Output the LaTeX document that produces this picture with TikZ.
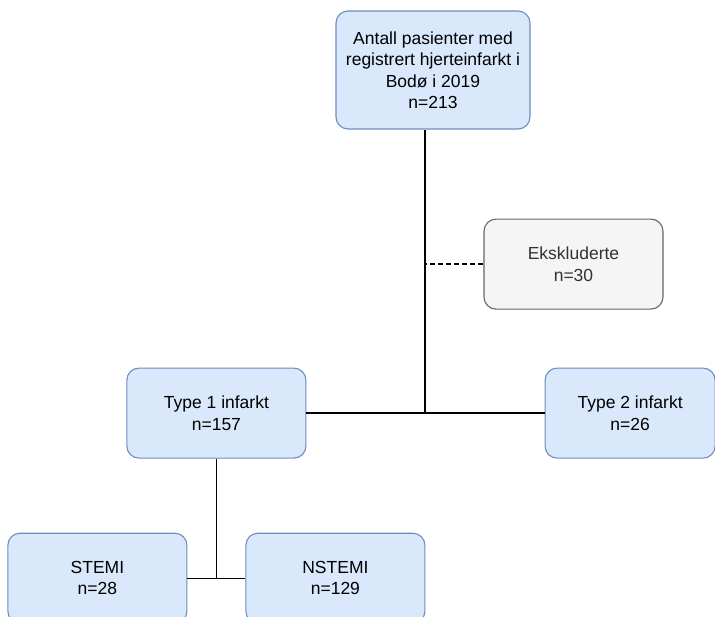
\documentclass[tikz,border=0pt]{standalone}
\usepackage{fontspec}
\setmainfont{Liberation Sans}
\usetikzlibrary{positioning}

\definecolor{boxblue}{HTML}{DAE8FC}
\definecolor{lineblue}{HTML}{6C8EBF}
\definecolor{boxgray}{HTML}{F5F5F5}
\definecolor{linegray}{HTML}{666666}
\definecolor{textgray}{HTML}{333333}

\begin{document}
\begin{tikzpicture}[
        x=1pt, y=1pt,
        box/.style={rectangle, draw=lineblue, line width=1.1pt, fill=boxblue, align=center, minimum width=179pt, minimum height=90pt, rounded corners=12pt, font=\fontsize{17.5}{21.5}\selectfont},
        gbox/.style={box, draw=linegray, fill=boxgray, text=textgray},
        link/.style={line width=1.3pt}
    ]
    \useasboundingbox (0,0) rectangle (715,-616);
    \clip (0,0) rectangle (715,-616);

    % Nodes
    \node (total) [box, minimum width=194pt, minimum height=118pt] at (433,-70) {Antall pasienter med\\registrert hjerteinfarkt i\\Bodø i 2019\\n=213};
    \node (excl) [gbox, below=89pt of total, xshift=140.5pt] {Ekskluderte\\n=30};

    \node (type1) [box, below left=238pt and 29pt of total] {Type 1 infarkt\\n=157};
    \node (type2) [box, minimum width=170pt, below right=238pt and 14pt of total] {Type 2 infarkt\\n=26};

    \node (stemi) [box, below=74pt of type1, xshift=-119pt] {STEMI\\n=28};
    \node (nstemi) [box, below=74pt of type1, xshift=119pt] {NSTEMI\\n=129};

    % Lines
    \coordinate (split) at ([xshift=-8pt]total.south |- type1.east);
    \draw [link] ([xshift=-8pt]total.south) -- (split);
    \draw [link] (type1.east) -- (type2.west);
    \draw [link, dash pattern=on 5pt off 3pt] (excl.west) -- (excl.west -| split);
    \draw [link] (type1.south) -- (type1.south |- stemi.east);
    \draw [link] (stemi.east) -- (nstemi.west);

\end{tikzpicture}
\end{document}
